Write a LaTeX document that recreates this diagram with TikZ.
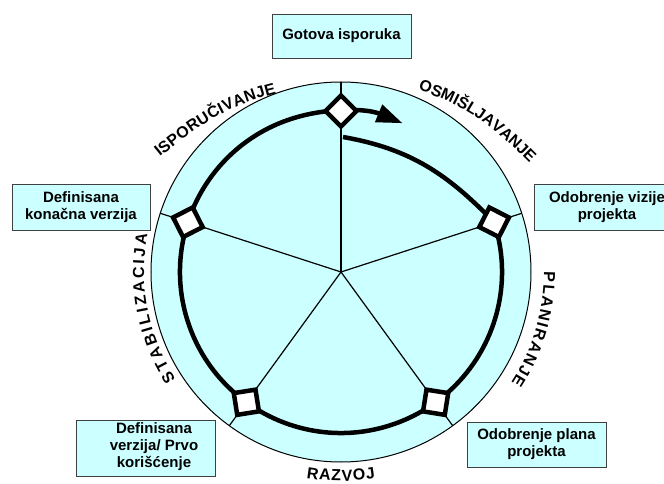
\documentclass[tikz,border=0pt]{standalone}
\usepackage{fontspec}
\setmainfont{Liberation Sans}
\usetikzlibrary{arrows.meta,decorations.text}
\definecolor{paleCyan}{HTML}{CCFFFF}
\begin{document}
\begin{tikzpicture}[x=1pt,y=1pt,
  phasebox/.style={draw=black!75, line width=0.9pt, fill=paleCyan, rectangle, inner sep=0pt,
    font=\bfseries\fontsize{15}{17}\selectfont, align=center},
  boxtext/.style={font=\bfseries\fontsize{15}{17}\selectfont, align=center, inner sep=0pt},
  gate/.style={draw=black, line width=4.5pt, fill=white, minimum size=22pt, inner sep=0pt, rectangle},
  spoke/.style={line width=1.2pt},
  cyclepath/.style={line width=4.5pt},
  arclabel/.style={decorate, decoration={text along path, text align={fit to path},
    text={|\bfseries\fontsize{16}{16}\selectfont|#1}}}
]
\useasboundingbox (-341,-212) rectangle (323,272);
\clip (-341,-212) rectangle (323,272);

% wheel and spokes
\node[circle, draw, fill=paleCyan, line width=1pt, minimum size=380pt, inner sep=0pt] (wheel) at (0,0) {};
\coordinate (hub) at (0,0);
\foreach \a in {90,18,-54,-126,162}
  \draw[spoke] (hub) -- (\a:190);

% inner lead-in, full cycle and closing arrow
\draw[cyclepath, -{Triangle[length=26pt,width=18pt]}]
  (2,135) to[out=-10, in=134] (18:161)
  arc[start angle=18, end angle=-292.5, radius=161];

% milestone gates
\foreach \a/\n in {90/g0,18/g1,-54/g2,-126/g3,162/g4}
  \node[gate, rotate=\a+45] (\n) at (\a:161) {};

% phase names
\path[arclabel=ISPORUČIVANJE] (-181,115) to[out=39, in=194] (-64.5,178.5);
\path[arclabel=OSMIŠLJAVANJE] (77,182) to[out=-18, in=135] (188.5,109);
\path[arclabel=PLANIRANJE] (0:203) arc[start angle=0, end angle=-33, radius=203];
\path[arclabel=STABILIZACIJA] (213:197) arc[start angle=213, end angle=169, radius=197];
\path[arclabel=RAZVOJ] (-99.5:209) arc[start angle=-99.5, end angle=-80.5, radius=209];

% milestone boxes
\node[phasebox, minimum width=139pt, minimum height=44pt] (b0) at (0.5,236) {Gotova isporuka};
\node[phasebox, minimum width=146pt, minimum height=46pt] (b1) at (266,65) {Odobrenje vizije\\projekta};
\node[phasebox, minimum width=139pt, minimum height=45pt] (b2) at (195.5,-172.5) {Odobrenje plana\\projekta};
\node[phasebox, minimum width=139pt, minimum height=56pt] (b3) at (-195.5,-176) {};
\node[boxtext] (t3) at (-187,-175) {Definisana\\verzija/ Prvo\\korišćenje};
\node[phasebox, minimum width=138pt, minimum height=46pt] (b4) at (-260,65) {Definisana\\konačna verzija};
\end{tikzpicture}
\end{document}
